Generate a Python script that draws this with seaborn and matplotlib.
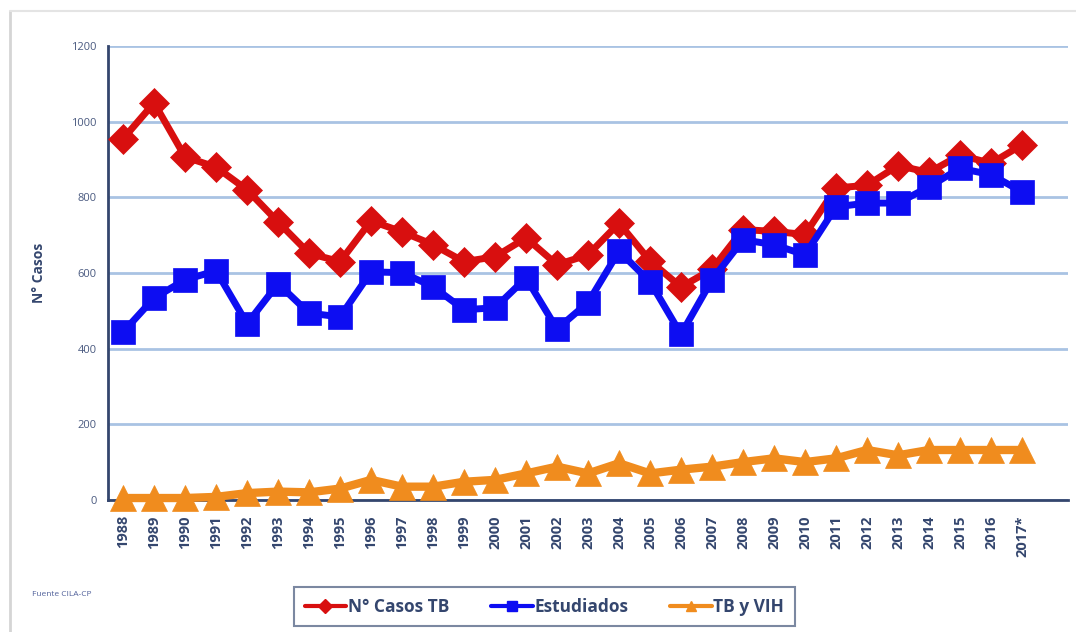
import matplotlib
matplotlib.use("Agg")
import matplotlib.pyplot as plt
from matplotlib.lines import Line2D
import seaborn as sns
import pandas as pd

# Datos
anios = ["1988", "1989", "1990", "1991", "1992", "1993", "1994", "1995", "1996", "1997",
         "1998", "1999", "2000", "2001", "2002", "2003", "2004", "2005", "2006", "2007",
         "2008", "2009", "2010", "2011", "2012", "2013", "2014", "2015", "2016", "2017*"]
casos_tb = [955, 1050, 907, 880, 820, 735, 652, 630, 738, 709,
            675, 630, 643, 693, 622, 648, 732, 632, 563, 610,
            715, 710, 702, 825, 832, 884, 866, 912, 890, 939]
estudiados = [444, 534, 582, 606, 466, 572, 494, 484, 603, 601,
              564, 503, 508, 587, 452, 522, 658, 577, 438, 582,
              688, 675, 648, 775, 785, 785, 828, 877, 860, 815]
tb_vih = [5, 5, 5, 8, 18, 22, 20, 30, 53, 35,
          35, 48, 53, 70, 88, 70, 97, 70, 80, 88,
          100, 110, 100, 110, 132, 118, 132, 132, 132, 132]
y_ticks = [0, 200, 400, 600, 800, 1000, 1200]

series = [("N° Casos TB", casos_tb, "#D80F0F", "D", 15, 5),
          ("Estudiados", estudiados, "#0D0DF2", "s", 17, 5),
          ("TB y VIH", tb_vih, "#F08C1E", "^", 19, 6)]

sns.set_style("white")
plt.rcParams['font.family'] = ['Open Sans', 'DejaVu Sans']

fig = plt.figure(figsize=(10.76, 6.32), dpi=100)
ax = fig.add_axes([0.100, 0.209, 0.893, 0.718])

pos = list(range(len(anios)))
handles = []
for nombre, valores, color, marca, tam, grosor in series:
    df = pd.DataFrame({"x": pos, "y": valores})
    sns.lineplot(data=df, x="x", y="y", ax=ax, color=color, linewidth=grosor,
                 marker=marca, markersize=tam, markeredgecolor=color,
                 markeredgewidth=0.5, zorder=3, clip_on=False)
    handles.append(Line2D([], [], color=color, lw=3, marker=marca, markersize=7,
                          markeredgecolor=color, label=nombre))

navy = "#34466E"
ax.set_xlim(-0.5, len(anios) + 0.5)
ax.set_ylim(0, 1200)
ax.set_yticks(y_ticks)
ax.set_yticklabels([str(v) for v in y_ticks], fontsize=8, color="#4A5A80")
ax.set_xticks(pos)
ax.set_xticklabels(anios, rotation=90, fontsize=10.5, fontweight="bold", color=navy)
ax.set_xticks([p - 0.5 for p in range(len(anios) + 2)], minor=True)
ax.tick_params(axis="x", which="major", length=0, pad=11)
ax.tick_params(axis="x", which="minor", length=4, width=1.5, color=navy, direction="out")
ax.tick_params(axis="y", length=4, width=1.5, color=navy, direction="out", pad=4)
ax.yaxis.grid(True, color="#A9C3E3", linewidth=2)
ax.xaxis.grid(False)
ax.set_axisbelow(True)
for s in ["top", "right"]:
    ax.spines[s].set_visible(False)
for s in ["left", "bottom"]:
    ax.spines[s].set_color(navy)
    ax.spines[s].set_linewidth(2)
ax.set_xlabel("")
ax.set_ylabel("N° Casos", fontsize=10, fontweight="bold", color=navy, labelpad=18)

leg = fig.legend(handles=handles, loc="center", bbox_to_anchor=(0.506, 0.040), ncol=3,
                 frameon=True, fancybox=False, fontsize=12.5, handlelength=2.4,
                 columnspacing=2.4, handletextpad=0.1, borderpad=0.6)
for t in leg.get_texts():
    t.set_color(navy)
    t.set_fontweight("bold")
leg.get_frame().set_edgecolor("#5A6A8A")
leg.get_frame().set_linewidth(1.5)

fig.text(0.03, 0.057, "Fuente CILA-CP", fontsize=6, color="#50609A")

# marco exterior tenue
fig.add_artist(Line2D([0.009, 0.009], [0.0, 0.982], color="#D5D5D5", lw=2))
fig.add_artist(Line2D([0.009, 1.0], [0.982, 0.982], color="#E4E4E4", lw=1.5))

fig.savefig("out.png", dpi=100)
